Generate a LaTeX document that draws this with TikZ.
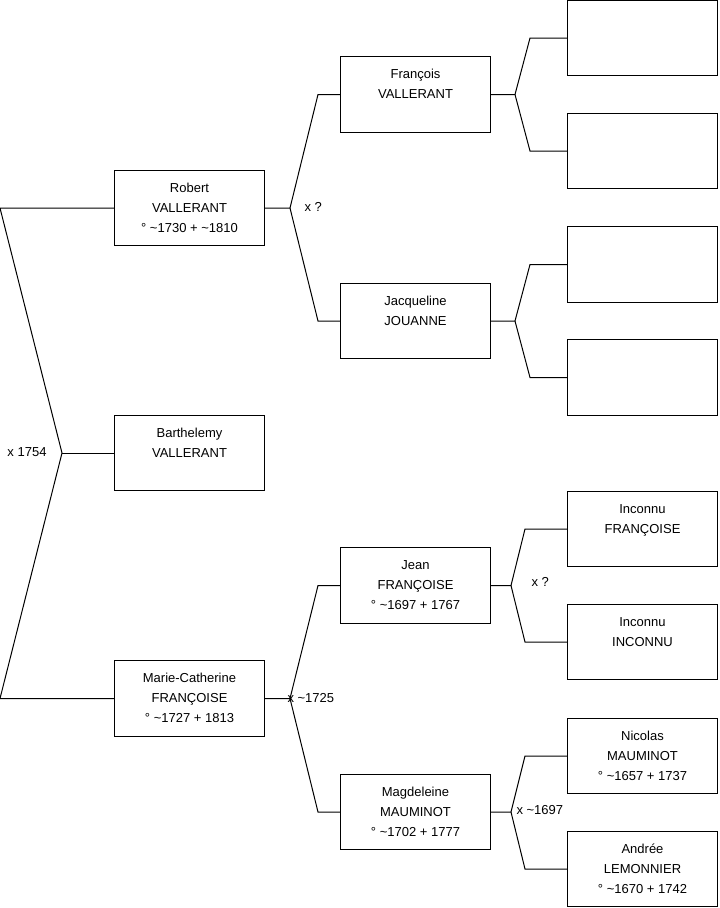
\documentclass[tikz,border=0pt]{standalone}
\usepackage{fontspec}
\setmainfont{Liberation Sans}
\usetikzlibrary{positioning,calc}

\tikzset{
  person/.style={draw,line width=0.75pt,minimum width=112.5pt,minimum height=56.5pt,
    align=center,inner sep=0pt,font=\fontsize{9.75}{15}\selectfont},
  union/.style={font=\fontsize{9.75}{15}\selectfont,inner sep=0pt}
}
% three text lines of a person box
\newcommand\who[3]{\strut#1\\\strut#2\\\strut#3}
% fork from a child to the two parents
\newcommand\couple[5]{%
  \coordinate (#1x) at (#1.east -| #4,0);
  \draw (#1.east) -- (#1x) -- (#2.west -| #5,0) -- (#2.west);
  \draw (#1x) -- (#3.west -| #5,0) -- (#3.west);}

\begin{document}
\begin{tikzpicture}[x=0.75pt,y=-0.75pt,line width=0.75pt]
  \useasboundingbox (0,0) rectangle (719,908);
  % generation 1
  \node[person] (barth)  at (189.5,453)   {\who{Barthelemy}{VALLERANT}{}};
  % generation 2
  \node[person] (robert) at (189.5,208)   {\who{Robert}{VALLERANT}{° \textasciitilde1730 + \textasciitilde1810}};
  \node[person] (mariec) at (189.5,698.5) {\who{Marie-Catherine}{FRANÇOISE}{° \textasciitilde1727 + 1813}};
  % generation 3
  \node[person] (francois) at (415.5,94.5) {\who{François}{VALLERANT}{}};
  \node[person] (jacq)     at (415.5,321)  {\who{Jacqueline}{JOUANNE}{}};
  \node[person] (jean)     at (415.5,585.5){\who{Jean}{FRANÇOISE}{° \textasciitilde1697 + 1767}};
  \node[person] (magd)     at (415.5,812)  {\who{Magdeleine}{MAUMINOT}{° \textasciitilde1702 + 1777}};
  % generation 4
  \node[person] (ff) at (642.5,38)    {};
  \node[person] (fm) at (642.5,151)   {};
  \node[person] (jf) at (642.5,264.5) {};
  \node[person] (jm) at (642.5,377.5) {};
  \node[person] (inc1)    at (642.5,529) {\who{Inconnu}{FRANÇOISE}{}};
  \node[person] (inc2)    at (642.5,642) {\who{Inconnu}{INCONNU}{}};
  \node[person] (nicolas) at (642.5,756) {\who{Nicolas}{MAUMINOT}{° \textasciitilde1657 + 1737}};
  \node[person] (andree)  at (642.5,869) {\who{Andrée}{LEMONNIER}{° \textasciitilde1670 + 1742}};

  % root fork
  \coordinate (top) at (robert.west -| 0,0);
  \coordinate (bot) at (mariec.west -| 0,0);
  \coordinate (barthx) at (barth.west -| 62,0);
  \draw (robert.west) -- (top) -- (barthx) -- (bot) -- (mariec.west);
  \draw (barthx) -- (barth.west);
  \node[union] (u0) at (27,452) {x 1754};

  % parents
  \couple{robert}{francois}{jacq}{290}{318}
  \couple{mariec}{jean}{magd}{290}{318}
  \couple{francois}{ff}{fm}{515}{530}
  \couple{jacq}{jf}{jm}{515}{530}
  \couple{jean}{inc1}{inc2}{511}{525}
  \couple{magd}{nicolas}{andree}{511}{525}

  \node[union,anchor=west] (u1) at (304,207) {x ?};
  \node[union,anchor=west] (u2) at (287,698) {x \textasciitilde1725};
  \node[union,anchor=west] (u3) at (531,582) {x ?};
  \node[union,anchor=west] (u4) at (516,810) {x \textasciitilde1697};
\end{tikzpicture}
\end{document}
